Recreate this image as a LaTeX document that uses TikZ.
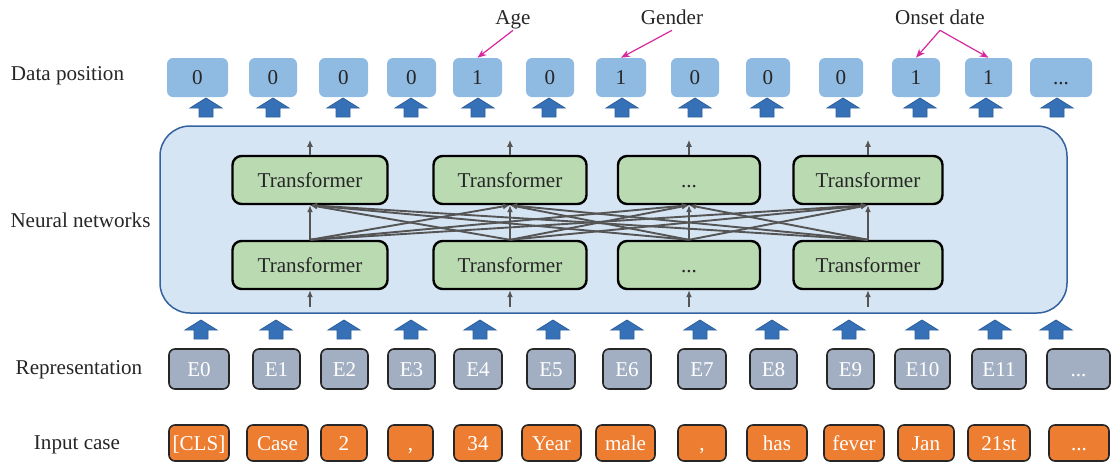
\documentclass[tikz,border=0pt]{standalone}
\usepackage{fontspec}
\setmainfont{Liberation Serif}
\usetikzlibrary{arrows.meta, positioning}

\definecolor{posblue}{RGB}{143,186,225}
\definecolor{netblue}{RGB}{214,229,243}
\definecolor{netedge}{RGB}{52,98,160}
\definecolor{trgreen}{RGB}{186,218,178}
\definecolor{embgray}{RGB}{162,175,194}
\definecolor{tokorange}{RGB}{237,125,49}
\definecolor{arrblue}{RGB}{54,113,184}
\definecolor{linkgray}{RGB}{85,85,85}
\definecolor{tagpink}{RGB}{214,40,157}

\newdimen\pxu \pxu=0.025cm
\newcommand\etcdots{...}

\tikzset{
  every node/.style={font=\fontsize{15}{18}\selectfont},
  box/.style={rounded corners=6\pxu, inner sep=0pt, text height=1em, text depth=0pt},
  posbox/.style={box, fill=posblue, text=black!85, minimum height=39\pxu},
  trbox/.style={box, rounded corners=9\pxu, draw=black, line width=2.4\pxu, fill=trgreen, text=black!85, minimum height=48\pxu},
  embbox/.style={box, draw=black!85, line width=1.6\pxu, fill=embgray, text=white, minimum height=40\pxu},
  tokbox/.style={box, draw=black!85, line width=1.6\pxu, fill=tokorange, text=white, minimum height=36\pxu},
  link/.style={draw=linkgray, line width=1.9\pxu, -{Latex[length=5pt, width=4.3pt]}},
  tag/.style={draw=tagpink, line width=1.2\pxu, -{Stealth[length=6.4pt, width=5pt]}},
  rowlabel/.style={inner sep=2\pxu, text=black!85, text height=0.75em, text depth=0.25em},
  uparrow/.pic={
    \filldraw[fill=arrblue, draw=arrblue!85!black, line width=0.8\pxu]
      (-7,0) -- (-7,-9) -- (-16,-9) -- (0,-19) -- (16,-9) -- (7,-9) -- (7,0) -- cycle;
  }
}

\begin{document}
\begin{tikzpicture}[x=0.025cm, y=-0.025cm]
  \useasboundingbox (0,0) rectangle (1112,463);

  % row labels
  \node[rowlabel] (lpos) at (67.5,77) {Data position};
  \node[rowlabel] (lnet) at (80.5,224) {Neural networks};
  \node[rowlabel] (lrep) at (79,371) {Representation};
  \node[rowlabel] (linp) at (77,446) {Input case};

  % network
  \node[draw=netedge, fill=netblue, line width=1.5\pxu, rounded corners=30\pxu,
        minimum width=907\pxu, minimum height=187\pxu] (net) at (613.5,219.5) {};

  \foreach \x/\w/\t [count=\i] in {310/155/Transformer, 510/153/Transformer, 689/142/\etcdots, 868/149/Transformer} {
    \node[trbox, minimum width=\w\pxu] (t\i) at (\x,180) {\t};
    \node[trbox, minimum width=\w\pxu] (b\i) at (\x,265) {\t};
    \path (t\i.north) ++(0,-15) coordinate (out\i);
    \path (b\i.south) ++(0,17) coordinate (in\i);
  }
  \foreach \i in {1,2,3,4} {
    \draw[link] (t\i.north) -- (out\i);
    \draw[link] (in\i) -- (b\i.south);
    \foreach \j in {1,2,3,4}
      \draw[link] (b\i.north) -- (t\j.south);
  }

  % data position
  \foreach \x/\w/\t [count=\i from 0] in {197.5/61/0, 273/48/0, 343.5/49/0, 411.5/49/0, 477.5/49/1,
      550/48/0, 621/50/1, 695/48/0, 768/44/0, 841/44/0, 916/48/1, 988.5/47/1, 1061/62/\etcdots}
    \node[posbox, minimum width=\w\pxu] (d\i) at (\x,77.5) {\t};

  % representation
  \foreach \x/\w/\t [count=\i from 0] in {199/60/E0, 276.5/47/E1, 344.5/47/E2, 411.5/47/E3, 478/48/E4,
      551/48/E5, 627/48/E6, 702/48/E7, 773.5/47/E8, 850.5/47/E9, 922.5/55/E10, 999/54/E11, 1078.5/63/\etcdots}
    \node[embbox, minimum width=\w\pxu] (e\i) at (\x,369) {\t};

  % input case
  \foreach \x/\w/\t [count=\i from 0] in {199/60/{[CLS]}, 277.5/61/Case, 344/46/2, 410.5/45/{,}, 478/48/34,
      551.5/59/Year, 625.5/59/male, 702/48/{,}, 777/60/has, 854/60/fever, 926/56/Jan, 999/62/21st, 1079/60/\etcdots}
    \node[tokbox, minimum width=\w\pxu] (i\i) at (\x,443) {\t};

  % block arrows
  \foreach \x in {206, 273, 343, 411, 478, 549, 622, 695, 767, 843, 920, 986, 1057}
    \pic at (\x,117) {uparrow};
  \foreach \x in {201, 276, 344, 411, 480, 553, 627, 700, 772, 849, 922, 995, 1056}
    \pic at (\x,339) {uparrow};

  % tags
  \node[rowlabel] (age) at (513,21) {Age};
  \node[rowlabel] (gender) at (672,21) {Gender};
  \node[rowlabel] (onset) at (940,21) {Onset date};
  \draw[tag] (age.south) -- (d4.north);
  \draw[tag] (gender.south) -- (d6.north);
  \draw[tag] (onset.south) -- (d10.north);
  \draw[tag] (onset.south) -- (d11.north);
\end{tikzpicture}
\end{document}
